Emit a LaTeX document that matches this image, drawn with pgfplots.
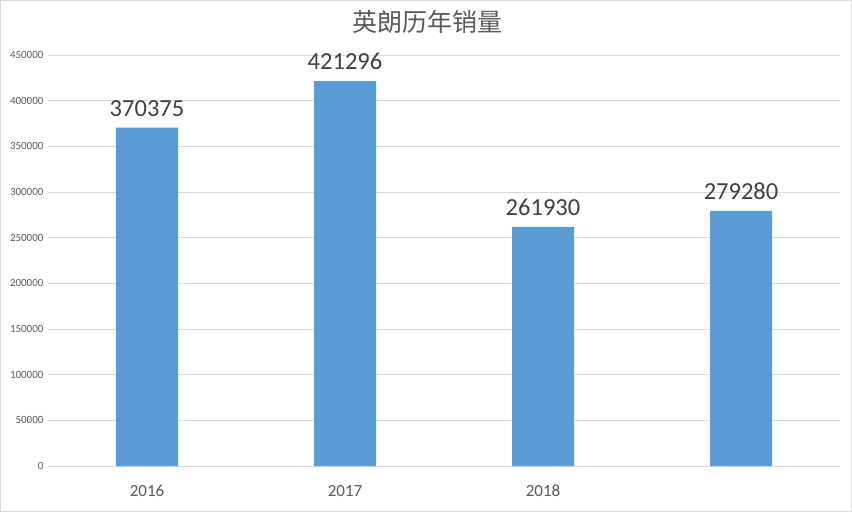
\documentclass[border=0pt]{standalone}
\usepackage{fontspec}
\setmainfont{Carlito}
\newfontfamily\cjk{Noto Sans CJK SC}
\usepackage{pgfplots}
\pgfplotsset{compat=1.18}
\definecolor{barblue}{HTML}{5B9BD5}
\definecolor{gridgrey}{HTML}{D9D9D9}
\definecolor{ticktext}{HTML}{595959}
\definecolor{valtext}{HTML}{404040}
\begin{document}
\begin{tikzpicture}[x=1pt,y=1pt]
  \begin{axis}[
      scale only axis,
      width=792pt, height=411pt,
      xmin=-0.5, xmax=3.5,
      ymin=0, ymax=450000,
      ytick={0,50000,100000,150000,200000,250000,300000,350000,400000,450000},
      yticklabels={0,50000,100000,150000,200000,250000,300000,350000,400000,450000},
      xtick={0,1,2,3},
      xticklabels={2016,2017,2018,{}},
      scaled y ticks=false,
      axis line style={draw=none},
      major tick length=0pt,
      ymajorgrids=true,
      grid style={gridgrey, line width=0.8pt},
      yticklabel style={font=\fontsize{11}{13}\selectfont, text=ticktext, xshift=-1pt},
      xticklabel style={font=\fontsize{17}{20}\selectfont, text=ticktext,
        anchor=north, text height=11pt, text depth=0pt, yshift=-16pt},
      title={\cjk 英朗历年销量},
      title style={at={(0.5,1)}, anchor=center, yshift=27pt, xshift=-17pt,
        font=\fontsize{25}{28}\selectfont, text=ticktext},
      nodes near coords,
      point meta=explicit symbolic,
      every node near coord/.append style={font=\fontsize{24.5}{28}\selectfont, text=valtext, yshift=8pt},
    ]
    \addplot[ybar, bar width=62pt, fill=barblue, draw=none] coordinates {
      (0,370375) [370375]
      (1,421296) [421296]
      (2,261930) [261930]
      (3,279280) [279280]
    };
  \end{axis}
  \draw[gridgrey, line width=1pt] (-47.5,-45.5) rectangle (803.5,465.5);
  \useasboundingbox (-48,-46) rectangle (804,466);
\end{tikzpicture}
\end{document}
